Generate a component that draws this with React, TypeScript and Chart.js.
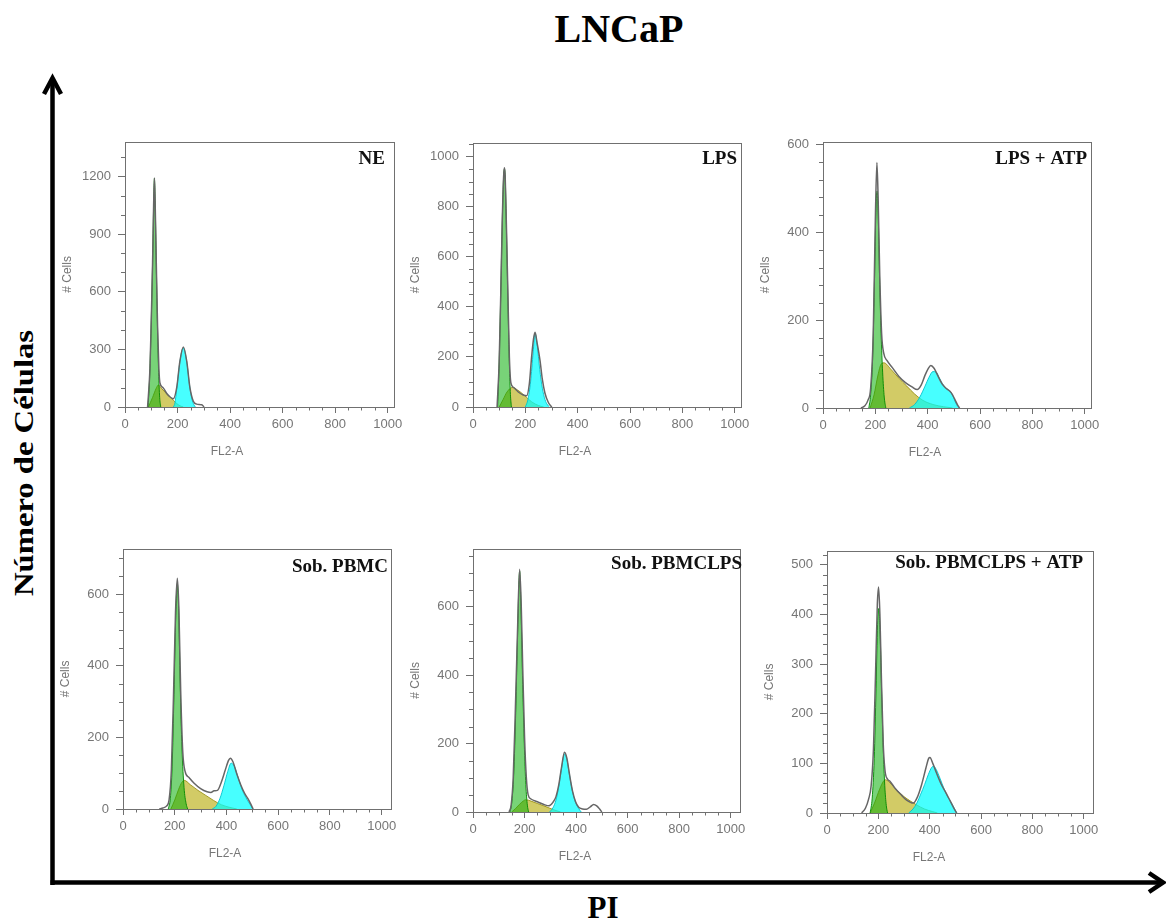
import React, { useEffect, useRef } from "react";
import { Chart, registerables } from "chart.js";

Chart.register(...registerables);

type Pt = [number, number];

// ---------- tick labels ----------
const X_TICKS = [0, 200, 400, 600, 800, 1000];
const Y_TICKS_NE = [0, 300, 600, 900, 1200];
const Y_TICKS_LPS = [0, 200, 400, 600, 800, 1000];
const Y_TICKS_LPS_ATP = [0, 200, 400, 600];
const Y_TICKS_PBMC = [0, 200, 400, 600];
const Y_TICKS_PBMC_LPS = [0, 200, 400, 600];
const Y_TICKS_PBMC_LPS_ATP = [0, 100, 200, 300, 400, 500];

const PANEL_NAMES = ["NE", "LPS", "LPS + ATP", "Sob. PBMC", "Sob. PBMCLPS", "Sob. PBMCLPS + ATP"];

// ---------- NE ----------
const NE_G1: Pt[] = [[88,0],[95,200],[100,450],[105,750],[109,1050],[112,1190],[115,1050],[119,750],[124,400],[128,180],[132,50],[136,0]];
const NE_S: Pt[] = [[89,0],[105,50],[118,95],[127,114],[140,95],[159,68],[172,50],[184,35],[197,18],[210,6],[222,0]];
const NE_G2: Pt[] = [[184,0],[190,20],[197,95],[209,235],[222,308],[235,235],[247,100],[255,40],[262,12],[268,0]];
const NE_TOTAL: Pt[] = [[86,0],[95,200],[100,450],[105,750],[109,1050],[112,1192],[115,1050],[119,760],[124,420],[129,200],[133,125],[145,100],[159,70],[172,52],[184,43],[197,102],[209,239],[222,312],[235,239],[247,102],[260,30],[273,15],[292,12],[301,0]];

// ---------- LPS ----------
const LPS_G1: Pt[] = [[94,0],[100,180],[106,450],[112,750],[117,920],[120,950],[123,920],[128,700],[134,400],[139,170],[143,50],[147,0]];
const LPS_S: Pt[] = [[100,0],[115,30],[130,60],[150,78],[170,68],[190,52],[205,38],[225,20],[250,6],[270,0]];
const LPS_G2: Pt[] = [[200,0],[210,30],[220,100],[230,220],[237,295],[245,250],[255,150],[265,75],[275,30],[285,8],[292,0]];
const LPS_TOTAL: Pt[] = [[92,0],[100,180],[106,450],[112,750],[117,920],[120,955],[123,920],[128,710],[134,420],[139,200],[145,95],[155,78],[173,60],[192,48],[205,45],[215,90],[224,200],[231,270],[237,298],[245,255],[256,186],[265,110],[275,55],[288,18],[301,0]];

// ---------- LPS + ATP ----------
const LPS_ATP_G1: Pt[] = [[175,0],[182,30],[190,120],[197,300],[203,470],[207,495],[211,440],[216,300],[222,170],[228,80],[234,25],[240,0]];
const LPS_ATP_S: Pt[] = [[180,0],[195,30],[210,75],[222,100],[233,103],[260,88],[290,68],[320,50],[350,32],[380,18],[420,8],[460,3],[495,0]];
const LPS_ATP_G2: Pt[] = [[330,0],[350,8],[370,25],[390,50],[405,70],[420,83],[432,82],[445,68],[460,52],[475,43],[490,35],[500,22],[510,8],[520,0]];
const LPS_ATP_TOTAL: Pt[] = [[145,0],[160,5],[172,18],[182,45],[192,170],[200,430],[206,560],[211,470],[217,300],[224,170],[232,125],[245,108],[265,92],[290,72],[315,58],[340,48],[360,42],[375,52],[390,75],[402,90],[412,97],[425,90],[440,72],[455,55],[470,45],[485,38],[495,30],[505,18],[515,6],[522,0]];

// ---------- Sob. PBMC ----------
const PBMC_G1: Pt[] = [[175,0],[183,30],[190,120],[197,320],[204,540],[210,630],[215,560],[221,350],[228,170],[236,60],[244,15],[250,0]];
const PBMC_S: Pt[] = [[185,0],[200,25],[215,55],[228,75],[237,80],[260,68],[290,52],[320,38],[350,24],[380,12],[410,5],[440,0]];
const PBMC_G2: Pt[] = [[345,0],[360,8],[375,30],[390,65],[405,105],[418,128],[430,120],[445,88],[460,55],[475,32],[490,14],[502,0]];
const PBMC_TOTAL: Pt[] = [[140,0],[155,3],[168,8],[178,25],[187,110],[195,310],[203,550],[210,645],[216,560],[223,330],[231,160],[240,105],[255,88],[275,72],[300,57],[325,48],[340,46],[352,51],[365,52],[380,75],[395,108],[408,136],[415,142],[425,132],[440,98],[455,68],[470,44],[485,26],[495,12],[503,0]];

// ---------- Sob. PBMCLPS ----------
const PBMC_LPS_G1: Pt[] = [[143,0],[150,25],[158,110],[166,300],[173,520],[181,705],[186,600],[192,400],[199,200],[205,80],[211,20],[216,0]];
const PBMC_LPS_S: Pt[] = [[150,0],[165,10],[180,22],[195,32],[205,36],[225,32],[250,25],[275,18],[295,12],[315,6],[340,0]];
const PBMC_LPS_G2: Pt[] = [[297,0],[310,12],[322,35],[333,75],[344,130],[355,170],[364,155],[374,110],[386,60],[398,28],[410,10],[420,0]];
const PBMC_LPS_TOTAL: Pt[] = [[140,0],[148,20],[156,100],[164,290],[172,510],[181,710],[187,610],[193,420],[200,220],[207,100],[214,50],[225,38],[250,30],[275,22],[295,18],[310,28],[322,45],[333,80],[344,133],[355,175],[364,158],[374,112],[386,62],[398,30],[410,14],[425,9],[440,8],[455,15],[468,22],[480,18],[492,8],[500,0]];

// ---------- Sob. PBMCLPS + ATP ----------
const PBMC_LPS_ATP_G1: Pt[] = [[168,0],[176,30],[184,110],[191,250],[197,380],[202,412],[207,360],[213,240],[219,130],[225,55],[231,15],[236,0]];
const PBMC_LPS_ATP_S: Pt[] = [[168,0],[185,20],[205,48],[220,64],[228,67],[250,58],[275,45],[300,33],[325,24],[350,16],[380,8],[410,3],[430,0]];
const PBMC_LPS_ATP_G2: Pt[] = [[318,0],[335,8],[350,20],[365,38],[380,57],[395,78],[408,92],[415,94],[425,88],[440,70],[455,50],[470,33],[485,20],[497,8],[506,0]];
const PBMC_LPS_ATP_TOTAL: Pt[] = [[135,0],[150,10],[162,28],[172,55],[181,130],[189,280],[196,420],[201,455],[206,400],[212,270],[219,140],[226,85],[236,68],[245,64],[265,50],[290,36],[310,26],[336,20],[352,32],[369,58],[385,90],[396,110],[401,112],[412,100],[427,80],[445,58],[466,38],[480,24],[492,12],[505,0]];

// ---------- layout (positions / sizes, not data) ----------
const AX_W = 70;
const AX_H = 60;
const PAD_T = 10;
const PAD_R = 18;

interface PanelDef {
  name: string;
  g1: Pt[]; s: Pt[]; g2: Pt[]; total: Pt[];
  yTicks: number[]; yMax: number; yMinor: number; xMax: number;
  box: { l: number; t: number; w: number; h: number };
  label: { dx: number; dy: number };
}

const PANELS: PanelDef[] = [
  { name: PANEL_NAMES[0], g1: NE_G1, s: NE_S, g2: NE_G2, total: NE_TOTAL, yTicks: Y_TICKS_NE, yMax: 1380, yMinor: 100, xMax: 1024,
    box: { l: 125, t: 137, w: 269, h: 270 }, label: { dx: -9, dy: 22 } },
  { name: PANEL_NAMES[1], g1: LPS_G1, s: LPS_S, g2: LPS_G2, total: LPS_TOTAL, yTicks: Y_TICKS_LPS, yMax: 1055, yMinor: 50, xMax: 1024,
    box: { l: 473, t: 138, w: 268, h: 269 }, label: { dx: -4, dy: 21 } },
  { name: PANEL_NAMES[2], g1: LPS_ATP_G1, s: LPS_ATP_S, g2: LPS_ATP_G2, total: LPS_ATP_TOTAL, yTicks: Y_TICKS_LPS_ATP, yMax: 607, yMinor: 40, xMax: 1024,
    box: { l: 823, t: 137, w: 268, h: 271 }, label: { dx: -4, dy: 22 } },
  { name: PANEL_NAMES[3], g1: PBMC_G1, s: PBMC_S, g2: PBMC_G2, total: PBMC_TOTAL, yTicks: Y_TICKS_PBMC, yMax: 727, yMinor: 50, xMax: 1036,
    box: { l: 123, t: 544, w: 268, h: 265 }, label: { dx: -3, dy: 23 } },
  { name: PANEL_NAMES[4], g1: PBMC_LPS_G1, s: PBMC_LPS_S, g2: PBMC_LPS_G2, total: PBMC_LPS_TOTAL, yTicks: Y_TICKS_PBMC_LPS, yMax: 770, yMinor: 50, xMax: 1036,
    box: { l: 473, t: 544, w: 267, h: 268 }, label: { dx: 2, dy: 20 } },
  { name: PANEL_NAMES[5], g1: PBMC_LPS_ATP_G1, s: PBMC_LPS_ATP_S, g2: PBMC_LPS_ATP_G2, total: PBMC_LPS_ATP_TOTAL, yTicks: Y_TICKS_PBMC_LPS_ATP, yMax: 528, yMinor: 20, xMax: 1036,
    box: { l: 827, t: 546, w: 266, h: 267 }, label: { dx: -10, dy: 17 } },
];

const AXIS_GRAY = "#707070";
const TEXT_GRAY = "#767676";
const SANS = '"Liberation Sans", Arial, sans-serif';
const SERIF = '"Liberation Serif", "Times New Roman", serif';

const decorPlugin = {
  id: "panelDecor",
  afterDraw(chart: any, _args: any, opts: any) {
    const { ctx, chartArea: a, scales } = chart;
    const xs = scales.x;
    const ys = scales.y;
    ctx.save();
    ctx.strokeStyle = AXIS_GRAY;
    ctx.lineWidth = 1;
    ctx.strokeRect(Math.round(a.left) + 0.5, Math.round(a.top) + 0.5, Math.round(a.right - a.left), Math.round(a.bottom - a.top));
    ctx.beginPath();
    for (let v = 0; v <= xs.max; v += opts.xMinor) {
      if (X_TICKS.includes(v)) continue;
      const px = Math.round(xs.getPixelForValue(v)) + 0.5;
      ctx.moveTo(px, a.bottom);
      ctx.lineTo(px, a.bottom + 3.5);
    }
    for (let v = 0; v <= ys.max; v += opts.yMinor) {
      if (opts.yTicks.includes(v)) continue;
      const py = Math.round(ys.getPixelForValue(v)) + 0.5;
      ctx.moveTo(a.left, py);
      ctx.lineTo(a.left - 4, py);
    }
    ctx.stroke();

    ctx.fillStyle = TEXT_GRAY;
    ctx.font = `12px ${SANS}`;
    ctx.textAlign = "center";
    ctx.textBaseline = "middle";
    ctx.fillText("FL2-A", a.left + 102, a.bottom + 45);
    ctx.translate(a.left - 57, (a.top + a.bottom) / 2);
    ctx.rotate(-Math.PI / 2);
    ctx.fillText("# Cells", 0, 0);
    ctx.restore();

    ctx.save();
    ctx.font = `bold 19px ${SERIF}`;
    ctx.fillStyle = "#111";
    ctx.textAlign = "right";
    ctx.textBaseline = "alphabetic";
    ctx.fillText(opts.label, a.right + opts.dx, a.top + opts.dy);
    ctx.restore();
  },
};

function Panel({ p }: { p: PanelDef }) {
  const ref = useRef<HTMLCanvasElement>(null);
  useEffect(() => {
    const toXY = (arr: Pt[]) => arr.map(([x, y]) => ({ x, y }));
    const common = { pointRadius: 0, pointHoverRadius: 0, cubicInterpolationMode: "monotone" as const, borderWidth: 1 };
    const chart = new Chart(ref.current!, {
      type: "line",
      data: {
        datasets: [
          { ...common, label: "Total", data: toXY(p.total), borderColor: "#666666", borderWidth: 1.5, fill: false, order: 0 },
          { ...common, label: "G2", data: toXY(p.g2), backgroundColor: "rgba(0,255,255,0.72)", borderColor: "rgba(0,195,205,0.9)", fill: "origin", order: 1 },
          { ...common, label: "G1", data: toXY(p.g1), backgroundColor: "rgba(10,175,10,0.55)", borderColor: "rgba(0,135,0,0.9)", fill: "origin", order: 2 },
          { ...common, label: "S", data: toXY(p.s), backgroundColor: "rgba(180,168,0,0.6)", borderColor: "rgba(145,135,0,0.8)", fill: "origin", order: 3 },
        ] as any,
      },
      options: {
        animation: false,
        responsive: false,
        maintainAspectRatio: false,
        layout: { padding: { top: PAD_T, right: PAD_R, left: 0, bottom: 0 } },
        plugins: {
          legend: { display: false },
          tooltip: { enabled: false },
          panelDecor: { label: p.name, dx: p.label.dx, dy: p.label.dy, xMinor: 50, yMinor: p.yMinor, yTicks: p.yTicks },
        } as any,
        scales: {
          x: {
            type: "linear",
            min: 0,
            max: p.xMax,
            afterBuildTicks: (s: any) => { s.ticks = X_TICKS.map((v) => ({ value: v })); },
            afterFit: (s: any) => { s.height = AX_H; },
            grid: { display: true, drawOnChartArea: false, tickLength: 6, color: AXIS_GRAY, tickColor: AXIS_GRAY },
            border: { display: false },
            ticks: { color: TEXT_GRAY, font: { family: SANS, size: 13 }, padding: 4, maxRotation: 0, autoSkip: false, callback: (v: any) => String(v) },
          },
          y: {
            type: "linear",
            min: 0,
            max: p.yMax,
            afterBuildTicks: (s: any) => { s.ticks = p.yTicks.map((v) => ({ value: v })); },
            afterFit: (s: any) => { s.width = AX_W; },
            grid: { display: true, drawOnChartArea: false, tickLength: 7, color: AXIS_GRAY, tickColor: AXIS_GRAY },
            border: { display: false },
            ticks: { color: TEXT_GRAY, font: { family: SANS, size: 13 }, padding: 7, autoSkip: false, callback: (v: any) => String(v) },
          },
        } as any,
      },
      plugins: [decorPlugin as any],
    });
    return () => chart.destroy();
  }, [p]);

  const w = p.box.w + AX_W + PAD_R;
  const h = p.box.h + PAD_T + AX_H;
  return (
    <canvas
      ref={ref}
      width={w}
      height={h}
      style={{ position: "absolute", left: p.box.l - AX_W, top: p.box.t - PAD_T, width: w, height: h }}
    />
  );
}

export default function App() {
  return (
    <div style={{ position: "absolute", left: 0, top: 0, width: 1166, height: 919, background: "#fff", overflow: "hidden" }}>
      <svg width={1166} height={919} style={{ position: "absolute", left: 0, top: 0 }}>
        <line x1={52.5} y1={885} x2={52.5} y2={79} stroke="#000" strokeWidth={4.5} />
        <polyline points="44,94 52.5,78 61,94" fill="none" stroke="#000" strokeWidth={4.5} strokeLinejoin="miter" />
        <line x1={50.5} y1={882.5} x2={1162} y2={882.5} stroke="#000" strokeWidth={4.5} />
        <polyline points="1149,873 1163,882.5 1149,892" fill="none" stroke="#000" strokeWidth={4.5} strokeLinejoin="miter" />
        <text x={619} y={42} textAnchor="middle" fontFamily={SERIF} fontWeight="bold" fontSize={40} fill="#000">LNCaP</text>
        <text transform="translate(33,463) rotate(-90) scale(1.21,1)" textAnchor="middle" fontFamily={SERIF} fontWeight="bold" fontSize={27} fill="#000">Número de Células</text>
        <text x={603} y={918} textAnchor="middle" fontFamily={SERIF} fontWeight="bold" fontSize={31} fill="#000">PI</text>
      </svg>
      {PANELS.map((p, i) => (
        <Panel key={i} p={p} />
      ))}
    </div>
  );
}
